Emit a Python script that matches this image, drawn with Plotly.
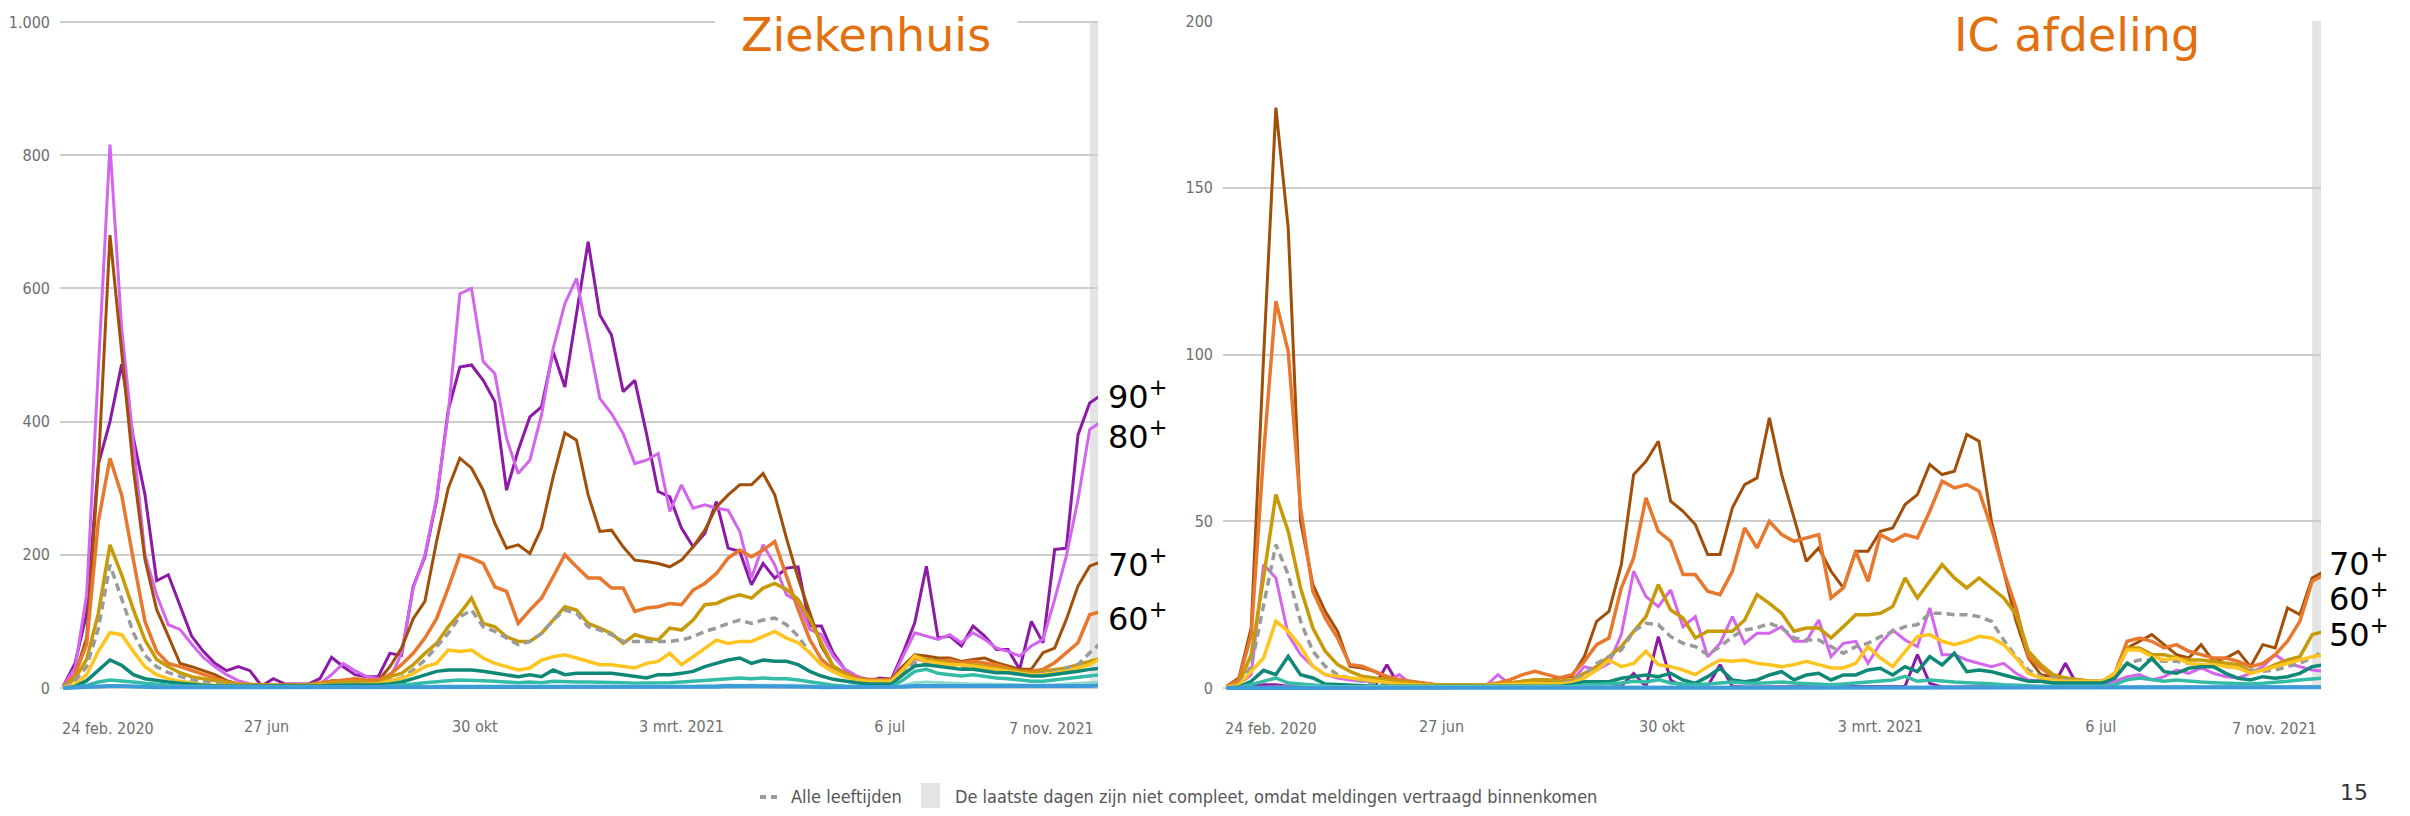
import pandas as pd
import plotly.graph_objects as go
from plotly.subplots import make_subplots

# weekly points, first week ending in late Feb 2020
weeks = pd.date_range("2020-02-26", periods=90, freq="7D")

groups = ["0-9", "10-19", "20-29", "30-39", "40-49", "50-59",
          "60-69", "70-79", "80-89", "90+"]

# ---- Ziekenhuis (hospital admissions per 100.000) ----
zh_90 = [3, 37, 112, 336, 400, 486, 376, 290, 161, 170,
         124, 78, 55, 37, 26, 32, 26, 3, 14, 6,
         6, 6, 14, 46, 32, 20, 17, 17, 52, 49,
         152, 197, 282, 417, 482, 485, 462, 430, 297, 357,
         407, 422, 505, 452, 562, 670, 560, 530, 445, 462,
         382, 295, 287, 240, 212, 232, 280, 210, 205, 155,
         187, 165, 180, 182, 93, 93, 53, 28, 18, 10,
         15, 13, 53, 98, 183, 75, 78, 63, 93, 78,
         58, 58, 28, 100, 68, 208, 210, 380, 428, 440]
zh_80 = [3, 30, 140, 480, 816, 540, 365, 200, 140, 95,
         88, 66, 46, 32, 20, 11, 6, 3, 3, 3,
         3, 3, 6, 20, 37, 26, 17, 14, 14, 52,
         150, 200, 285, 412, 592, 600, 490, 472, 375, 322,
         342, 410, 510, 577, 615, 527, 435, 412, 382, 337,
         342, 352, 265, 305, 270, 275, 270, 267, 235, 165,
         215, 185, 140, 130, 88, 80, 48, 28, 18, 12,
         12, 10, 48, 83, 78, 73, 80, 68, 83, 73,
         60, 55, 48, 63, 73, 133, 198, 283, 388, 400]
zh_70 = [2, 20, 75, 330, 680, 500, 330, 193, 118, 78,
         37, 32, 26, 20, 11, 6, 4, 3, 3, 3,
         3, 4, 5, 11, 11, 14, 11, 11, 32, 60,
         104, 130, 220, 300, 345, 330, 297, 247, 210, 215,
         202, 240, 317, 383, 372, 290, 235, 237, 212, 192,
         190, 187, 182, 192, 212, 237, 272, 290, 305, 305,
         322, 290, 225, 165, 113, 63, 33, 23, 15, 13,
         13, 13, 33, 50, 48, 45, 45, 40, 43, 45,
         38, 33, 28, 28, 53, 60, 103, 153, 183, 190]
zh_60 = [2, 20, 66, 250, 345, 290, 193, 100, 55, 37,
         32, 26, 20, 14, 9, 6, 5, 4, 4, 4,
         4, 5, 8, 10, 12, 14, 12, 12, 20, 35,
         52, 75, 104, 150, 200, 195, 187, 152, 145, 97,
         117, 135, 167, 200, 182, 165, 165, 150, 150, 115,
         120, 122, 127, 125, 147, 157, 172, 195, 207, 197,
         207, 220, 168, 118, 73, 43, 28, 23, 15, 12,
         12, 12, 28, 45, 40, 40, 42, 38, 40, 38,
         35, 30, 25, 25, 28, 38, 53, 68, 110, 115]
zh_50 = [1, 14, 43, 112, 215, 170, 118, 72, 43, 32,
         23, 17, 14, 11, 8, 6, 5, 4, 4, 4,
         4, 5, 6, 8, 9, 9, 8, 8, 17, 22,
         35, 52, 67, 92, 112, 135, 97, 92, 77, 70,
         70, 82, 102, 122, 117, 97, 90, 82, 67, 80,
         75, 72, 90, 87, 102, 125, 127, 135, 140, 135,
         150, 157, 148, 133, 103, 68, 33, 20, 13, 10,
         10, 10, 28, 48, 43, 40, 38, 35, 35, 33,
         30, 28, 25, 22, 25, 28, 30, 35, 40, 45]
zh_40 = [1, 5, 20, 55, 83, 80, 55, 32, 20, 14,
         10, 7, 5, 4, 3, 3, 3, 2, 2, 2,
         2, 3, 4, 5, 5, 5, 5, 6, 11, 14,
         22, 32, 37, 57, 55, 57, 45, 37, 32, 27,
         30, 42, 47, 50, 45, 40, 35, 35, 32, 30,
         37, 40, 52, 35, 47, 60, 72, 67, 70, 70,
         77, 85, 75, 68, 53, 35, 25, 17, 12, 10,
         10, 10, 28, 48, 40, 38, 35, 35, 33, 30,
         28, 25, 22, 20, 20, 22, 25, 30, 35, 45]
zh_30 = [0, 2, 11, 26, 42, 34, 20, 14, 11, 9,
         7, 5, 4, 3, 3, 2, 2, 2, 2, 2,
         2, 2, 3, 4, 4, 4, 4, 5, 6, 9,
         14, 20, 25, 27, 27, 27, 25, 22, 20, 17,
         20, 17, 27, 20, 22, 22, 22, 22, 20, 17,
         15, 20, 20, 22, 25, 32, 37, 42, 45, 37,
         42, 40, 40, 35, 25, 18, 13, 10, 8, 6,
         6, 6, 20, 33, 35, 33, 30, 28, 28, 25,
         23, 23, 20, 18, 18, 20, 23, 25, 28, 30]
zh_20 = [0, 1, 4, 9, 12, 11, 9, 7, 5, 4,
         3, 3, 2, 2, 2, 1, 1, 1, 1, 1,
         1, 1, 1, 2, 2, 2, 2, 2, 3, 4,
         6, 8, 10, 11, 12, 12, 11, 10, 9, 8,
         9, 8, 10, 9, 9, 9, 9, 8, 8, 7,
         7, 8, 8, 9, 10, 12, 13, 14, 15, 14,
         15, 14, 14, 12, 9, 6, 4, 3, 2, 2,
         2, 2, 12, 25, 28, 22, 20, 18, 20, 17,
         15, 14, 12, 10, 10, 12, 14, 15, 18, 20]
zh_10 = [0, 0, 1, 2, 3, 3, 2, 2, 1, 1,
         1, 1, 1, 1, 1, 1, 1, 1, 1, 1,
         1, 1, 1, 1, 1, 1, 1, 1, 1, 1,
         2, 2, 3, 3, 3, 3, 3, 3, 2, 2,
         3, 3, 3, 3, 3, 3, 3, 3, 3, 2,
         2, 3, 3, 3, 3, 4, 4, 5, 5, 5,
         5, 5, 4, 4, 3, 2, 1, 1, 1, 1,
         1, 1, 4, 8, 9, 8, 7, 7, 6, 6,
         6, 5, 5, 4, 4, 5, 6, 7, 8, 9]
zh_0 = [0, 1, 1, 2, 3, 3, 2, 2, 1, 1,
        1, 1, 1, 1, 1, 1, 1, 1, 1, 1,
        1, 1, 1, 1, 1, 1, 1, 1, 1, 1,
        1, 1, 2, 2, 2, 2, 2, 2, 2, 1,
        2, 2, 2, 2, 2, 2, 2, 2, 2, 1,
        1, 2, 2, 2, 2, 2, 2, 3, 3, 3,
        3, 3, 2, 2, 2, 1, 1, 1, 1, 1,
        1, 1, 2, 3, 3, 3, 3, 3, 3, 2,
        2, 2, 2, 2, 2, 2, 3, 3, 3, 4]
zh_all = [1, 11, 32, 89, 185, 135, 83, 49, 32, 23,
          17, 12, 9, 6, 5, 4, 3, 3, 3, 3,
          3, 4, 4, 5, 5, 5, 5, 6, 10, 15,
          27, 42, 62, 82, 107, 117, 92, 85, 75, 65,
          70, 82, 102, 117, 112, 92, 87, 80, 70, 70,
          70, 70, 70, 72, 77, 85, 90, 97, 102, 97,
          102, 105, 95, 78, 53, 35, 25, 17, 12, 10,
          10, 10, 23, 38, 35, 35, 33, 32, 30, 30,
          28, 25, 22, 20, 22, 25, 30, 35, 53, 68]

# ---- IC afdeling (ICU admissions per 100.000) ----
ic_90 = [0, 0.2, 0.5, 1, 1, 0.5, 0.3, 0.3, 0.2, 0.2,
         0.2, 0.2, 0.5, 7, 0.5, 0.2, 0.2, 0.2, 0.2, 0.2,
         0.2, 0.2, 0.2, 0.2, 0.2, 0.2, 0.2, 0.2, 0.2, 0.3,
         0.3, 0.3, 0.5, 4.4, 0.4, 15.4, 2.4, 0.3, 0.3, 0.5,
         7, 0.5, 0.3, 0.3, 0.3, 0.3, 0.3, 0.3, 0.3, 0.3,
         0.3, 0.3, 0.3, 0.3, 0.3, 0.5, 10, 1.4, 0.3, 0.3,
         0.3, 0.3, 0.3, 0.3, 0.3, 0.3, 0.3, 0.5, 7.4, 0.5,
         0.2, 0.2, 0.2, 0.2, 0.2, 0.2, 0.2, 0.2, 0.2, 0.2,
         0.2, 0.2, 0.2, 0.2, 0.2, 0.2, 0.3, 0.3, 0.3, 0.3]
ic_80 = [0.3, 1, 4, 37, 33, 16, 10, 6.5, 4, 3,
         2.4, 2, 2, 2, 4, 1, 0.8, 0.6, 0.5, 0.5,
         0.5, 0.6, 4, 1, 1.5, 2, 1.5, 1.5, 2, 6.4,
         5.4, 7.4, 16, 35, 27.4, 24.4, 29.4, 18.4, 21.4, 9.4,
         13.4, 21.4, 13.4, 16.4, 16.4, 18.4, 14, 14, 20.4, 9.4,
         13.4, 14, 7.4, 13.4, 17.4, 14.4, 12.4, 24, 10, 10,
         8.4, 7.4, 6.4, 7.4, 4.4, 2.4, 2, 1.5, 1.2, 1,
         1, 1, 2, 3.4, 4, 2.4, 3.4, 5.4, 4.4, 6,
         4.4, 3.4, 3, 4.4, 6.4, 10, 7.4, 6.4, 5.4, 5]
ic_70 = [0.5, 3, 18, 99, 174, 138, 50, 31, 23, 17,
         6.5, 6, 5, 3, 2.4, 2, 1.5, 1, 1, 1,
         0.5, 1, 1, 1.5, 2, 2.5, 2, 3, 3.5, 9.4,
         20, 23, 37, 64, 68, 74, 56, 53, 49, 40,
         40, 54, 61, 63, 81, 64, 51, 38, 42, 35,
         30, 41, 41, 47, 48, 55, 58, 67, 64, 65,
         76, 74, 50, 35, 20, 9, 4, 3.4, 3, 2.4,
         2, 2, 3.4, 12, 14, 16, 13, 10, 9, 13,
         8, 9, 11, 6.4, 13, 12, 24, 22, 33, 35]
ic_60 = [0.5, 2.4, 16, 70, 116, 101, 54, 29, 21, 15,
         7, 6.5, 5, 3.5, 2.5, 2, 1.5, 1, 1, 1,
         1, 1, 1.5, 2.5, 4, 5, 4, 3, 4, 8,
         13, 15, 30, 39, 57, 47, 44, 34, 34, 29,
         28, 35, 48, 42, 50, 46, 44, 45, 46, 27,
         30, 41, 32, 46, 44, 46, 45, 53, 62, 60,
         61, 59, 48, 35, 24, 9.4, 6, 3.4, 3, 2.4,
         2, 2, 4.4, 14, 15, 14, 12, 13, 11, 10,
         9, 9, 8, 6.4, 7.4, 10, 14, 20, 32, 34]
ic_50 = [0.3, 1.2, 10, 33, 58, 47, 30, 18, 11, 7,
         5, 3.5, 3, 2.5, 2, 1.5, 1, 1, 1, 0.8,
         0.8, 1, 1, 1.5, 2, 2.5, 2.5, 2, 2.4, 4.4,
         6.4, 9.4, 12.4, 17, 21.4, 31, 23.4, 21, 15, 17,
         17, 17, 20.4, 28, 25.4, 22.4, 17, 18, 18, 15,
         18.4, 22, 22, 22.4, 24.4, 33, 27, 32, 37, 33,
         30, 33, 30, 27, 22, 11, 7, 4, 3, 2.4,
         2, 2, 4, 12, 12, 10, 10, 9, 8.4, 8.4,
         8, 7.4, 7, 5, 5.4, 7, 8.4, 9.4, 16, 17]
ic_40 = [0.2, 0.8, 5, 9, 20, 17, 12.4, 6.5, 4, 3.5,
         3, 2.5, 2, 1.5, 1.2, 1, 0.8, 0.6, 0.6, 0.6,
         0.6, 0.8, 1, 1, 1.2, 1.4, 1.2, 1.2, 1.6, 3,
         5.4, 8.4, 6.4, 7.4, 11, 7, 6.4, 5.4, 4, 6.4,
         8.4, 8, 8.4, 7.4, 7, 6.4, 7, 8, 7, 6,
         6, 7.4, 12.4, 9, 6.4, 11, 15.4, 16, 14, 13,
         14, 15.5, 15, 13, 9, 4.4, 3, 2.4, 2, 2,
         2, 2, 4.4, 11.4, 11.4, 9.4, 8.4, 9, 7.4, 7,
         7, 6.4, 6, 4.4, 5.4, 6.4, 7.4, 8.4, 9.4, 10]
ic_30 = [0, 0.3, 2, 5.3, 4, 9.5, 4, 3, 1.2, 1,
         0.8, 0.6, 0.5, 0.5, 0.5, 0.4, 0.4, 0.3, 0.3, 0.3,
         0.3, 0.3, 0.4, 0.4, 0.5, 0.5, 0.5, 0.5, 1, 1.9,
         1.9, 1.9, 2.9, 3.4, 3.9, 3.4, 4.4, 2.4, 1.4, 3.4,
         5.9, 2.4, 1.9, 2.4, 3.9, 4.9, 2.4, 3.9, 4.4, 2.4,
         3.9, 3.9, 5.4, 5.9, 3.9, 6.4, 4.9, 9.4, 6.9, 10.4,
         4.9, 5.4, 4.9, 3.9, 2.9, 2, 2, 1.5, 1.5, 1.5,
         1.5, 1.5, 2.9, 7.4, 5.4, 8.9, 4.9, 4.4, 5.9, 6.4,
         6.4, 4.4, 2.9, 2.4, 3.4, 2.9, 3.4, 4.4, 6.4, 7]
ic_20 = [0, 0.2, 1, 2, 3, 1.5, 1.2, 0.8, 0.5, 0.3,
         0.3, 0.3, 0.3, 0.3, 0.3, 0.3, 0.3, 0.3, 0.3, 0.3,
         0.3, 0.3, 0.3, 0.3, 0.3, 0.3, 0.3, 0.3, 0.5, 0.8,
         1, 1.2, 1.5, 2, 1.8, 2.5, 1.5, 1.2, 1, 1.2,
         1.5, 1.8, 1.5, 1.4, 1.6, 1.8, 1.5, 1.4, 1.2, 1,
         1.2, 1.5, 1.6, 2, 2.4, 3.5, 2, 2.4, 2, 1.8,
         1.6, 1.5, 1.3, 1, 0.8, 0.6, 0.5, 0.5, 0.5, 0.5,
         0.5, 0.5, 1, 2.5, 3, 2.4, 2, 2.4, 2, 1.8,
         1.6, 1.5, 1.4, 1.2, 1.4, 1.6, 2, 2.4, 2.8, 3]
ic_10 = [0, 0, 0.1, 0.2, 0.3, 0.3, 0.2, 0.1, 0.1, 0.1,
         0.1, 0.1, 0.1, 0.1, 0.1, 0.1, 0.1, 0.1, 0.1, 0.1,
         0.1, 0.1, 0.1, 0.1, 0.1, 0.1, 0.1, 0.1, 0.1, 0.1,
         0.2, 0.2, 0.2, 0.3, 0.3, 0.3, 0.3, 0.2, 0.2, 0.2,
         0.2, 0.2, 0.2, 0.2, 0.2, 0.2, 0.2, 0.2, 0.2, 0.2,
         0.2, 0.2, 0.2, 0.2, 0.3, 0.3, 0.3, 0.3, 0.3, 0.3,
         0.3, 0.3, 0.2, 0.2, 0.2, 0.1, 0.1, 0.1, 0.1, 0.1,
         0.1, 0.1, 0.2, 0.4, 0.4, 0.4, 0.3, 0.3, 0.3, 0.3,
         0.3, 0.3, 0.2, 0.2, 0.2, 0.3, 0.3, 0.3, 0.4, 0.4]
ic_0 = [0, 0, 0, 0.1, 0.1, 0.1, 0.1, 0, 0, 0,
        0, 0, 0, 0, 0, 0, 0, 0, 0, 0,
        0, 0, 0, 0, 0, 0, 0, 0, 0, 0,
        0.1, 0.1, 0.1, 0.1, 0.1, 0.1, 0.1, 0.1, 0.1, 0.1,
        0.1, 0.1, 0.1, 0.1, 0.1, 0.1, 0.1, 0.1, 0.1, 0.1,
        0.1, 0.1, 0.1, 0.1, 0.1, 0.1, 0.1, 0.1, 0.1, 0.1,
        0.1, 0.1, 0.1, 0.1, 0, 0, 0, 0, 0, 0,
        0, 0, 0.1, 0.1, 0.1, 0.1, 0.1, 0.1, 0.1, 0.1,
        0.1, 0.1, 0.1, 0.1, 0.1, 0.1, 0.1, 0.1, 0.2, 0.2]
ic_all = [0.2, 1, 6.5, 25, 43, 34, 20, 11, 6.5, 4,
          3, 2, 1.5, 1, 1, 0.8, 0.7, 0.6, 0.6, 0.6,
          0.6, 0.7, 0.8, 1, 1.2, 1.4, 1.4, 1.5, 2, 4,
          7.4, 9.4, 11.4, 17, 19.4, 19, 15.4, 13.4, 12.4, 10,
          12.4, 15.4, 17.4, 18, 19.4, 18, 15, 14.4, 14.4, 12.4,
          10.4, 12.4, 13.4, 15.4, 17, 18.4, 19, 22.4, 22.4, 22,
          22, 21.4, 20, 14.4, 9.4, 5.4, 3.4, 3, 2.4, 2,
          2, 2, 4, 7.4, 8.4, 8.4, 8, 8, 7.4, 7,
          7, 6.4, 6, 5.4, 5, 5.4, 6.4, 7.4, 9, 11.4]

zh_series = [zh_0, zh_10, zh_20, zh_30, zh_40, zh_50, zh_60, zh_70, zh_80, zh_90]
ic_series = [ic_0, ic_10, ic_20, ic_30, ic_40, ic_50, ic_60, ic_70, ic_80, ic_90]

colors = ["#3D9BDA", "#8ED8CF", "#33BBA5", "#0F8877", "#FFC41F",
          "#C99A08", "#E8782E", "#A24F08", "#D466EE", "#8C1AA6"]
widths = [4, 3, 3.5, 3.5, 3.5, 3.5, 3.5, 3, 3, 3]

# x-axis tick dates (first and last placed as annotations so they can be aligned)
tick_mid = ["2020-06-27", "2020-10-30", "2021-03-03", "2021-07-06"]
tick_mid_text = ["27 jun", "30 okt", "3 mrt. 2021", "6 jul"]
tick_first = ("2020-02-24", "24 feb. 2020")
tick_last = ("2021-11-07", "7 nov. 2021")
incomplete_from = "2021-11-03"

zh_ticks = [0, 200, 400, 600, 800, 1000]
zh_ticktext = ["0", "200", "400", "600", "800", "1.000"]
ic_ticks = [0, 50, 100, 150, 200]
ic_ticktext = ["0", "50", "100", "150", "200"]

# the page body adds 8px around the figure, so the figure is 16px smaller
# than the 2410x816 window and every position is given in window pixels
PAGE_W, PAGE_H, BODY = 2410, 816, 8
W, H = PAGE_W - 2 * BODY, PAGE_H - 2 * BODY
narrow = "DejaVu Sans Condensed, Liberation Sans Narrow, sans-serif"
tick_font = dict(family=narrow, size=16, color="#6E6E6E")
orange = "#E3700F"


def px_x(p):
    return (p - BODY) / W


def px_y(p):
    return (H - (p - BODY)) / H


fig = make_subplots(rows=1, cols=2)

# oldest groups first so the young (near-zero) lines end up on top, as in the source
for col, series, allv in [(1, zh_series, zh_all), (2, ic_series, ic_all)]:
    for k in range(len(series) - 1, -1, -1):
        fig.add_trace(go.Scatter(x=weeks, y=series[k], mode="lines", name=groups[k],
                                 line=dict(color=colors[k], width=widths[k]),
                                 showlegend=False), row=1, col=col)
        if k == 5:
            fig.add_trace(go.Scatter(x=weeks, y=allv, mode="lines", name="Alle leeftijden",
                                     line=dict(color="#9A9A9A", width=3.5, dash="8px,5px"),
                                     showlegend=False), row=1, col=col)

ydom = [px_y(693), px_y(20)]
xrange_ = [tick_first[0], "2021-11-08"]
common_x = dict(range=xrange_, type="date", showgrid=False, zeroline=False,
                showline=False, ticks="", tickvals=tick_mid, ticktext=tick_mid_text,
                tickfont=tick_font, ticklabelstandoff=22, automargin=False)
common_y = dict(showgrid=True, gridcolor="#CDCDCD", gridwidth=2, zeroline=False,
                showline=False, ticks="", tickfont=tick_font, ticklabelstandoff=9,
                domain=ydom, automargin=False)

fig.update_layout(
    xaxis=dict(domain=[px_x(60), px_x(1098)], **common_x),
    xaxis2=dict(domain=[px_x(1223), px_x(2321)], **common_x),
    yaxis=dict(range=[-7.5, 1003], tickvals=zh_ticks, ticktext=zh_ticktext, **common_y),
    yaxis2=dict(range=[-1.5, 200.3], tickvals=ic_ticks, ticktext=ic_ticktext, **common_y),
    width=W, height=H,
    margin=dict(l=0, r=0, t=0, b=0, pad=0, autoexpand=False),
    paper_bgcolor="white", plot_bgcolor="white",
    showlegend=False,
)

# grey band: last days incomplete
for xr, yr, top in [("x", "y", 1000), ("x2", "y2", 200)]:
    fig.add_shape(type="rect", xref=xr, yref=yr, x0=incomplete_from, x1=xrange_[1],
                  y0=0, y1=top, fillcolor="#E4E4E4", line_width=0, layer="below")

# first / last date labels
for xr in ["x", "x2"]:
    fig.add_annotation(x=tick_first[0], xref=xr, y=px_y(728), yref="paper",
                       text=tick_first[1], showarrow=False, xanchor="left",
                       yanchor="middle", font=tick_font)
    fig.add_annotation(x=tick_last[0], xref=xr, y=px_y(728), yref="paper",
                       text=tick_last[1], showarrow=False, xanchor="right",
                       yanchor="middle", font=tick_font)

# panel titles, sitting on the top gridline (white box breaks the line)
title_font = dict(family="DejaVu Sans", size=46, color=orange)
for cx, x0, x1, text in [(866, 715, 1018, "Ziekenhuis"), (2077, 1925, 2230, "IC afdeling")]:
    fig.add_shape(type="rect", xref="paper", yref="paper",
                  x0=px_x(x0), x1=px_x(x1), y0=px_y(30), y1=px_y(14),
                  fillcolor="white", line_width=0, layer="above")
    fig.add_annotation(x=px_x(cx), y=px_y(35), xref="paper", yref="paper",
                       text=text, showarrow=False, font=title_font,
                       borderpad=0, xanchor="center", yanchor="middle")

# end labels for the oldest groups
label_font = dict(family="DejaVu Sans", size=32, color="black")
for text, yv in [("90", 440), ("80", 380), ("70", 188), ("60", 107)]:
    fig.add_annotation(x=1, xref="x domain", y=yv, yref="y", xshift=8,
                       text=f"{text}<sup>+</sup>", showarrow=False,
                       xanchor="left", yanchor="middle", font=label_font)
for text, yv in [("70", 37.8), ("60", 27.3), ("50", 16.5)]:
    fig.add_annotation(x=1, xref="x2 domain", y=yv, yref="y2", xshift=6,
                       text=f"{text}<sup>+</sup>", showarrow=False,
                       xanchor="left", yanchor="middle", font=label_font)

# legend at the bottom
leg_font = dict(family=narrow, size=18, color="#555555")
fig.add_shape(type="line", xref="paper", yref="paper",
              x0=px_x(760), x1=px_x(777), y0=px_y(797), y1=px_y(797),
              line=dict(color="#9A9A9A", width=4, dash="6px,5px"))
fig.add_annotation(x=px_x(789), y=px_y(796), xref="paper", yref="paper",
                   text="Alle leeftijden", showarrow=False, xanchor="left",
                   yanchor="middle", font=leg_font)
fig.add_shape(type="rect", xref="paper", yref="paper",
              x0=px_x(921), x1=px_x(940), y0=px_y(808), y1=px_y(783),
              fillcolor="#E4E4E4", line_width=0)
fig.add_annotation(x=px_x(953), y=px_y(796), xref="paper", yref="paper",
                   text="De laatste dagen zijn niet compleet, omdat meldingen vertraagd binnenkomen",
                   showarrow=False, xanchor="left", yanchor="middle", font=leg_font)

# slide number in the bottom-right corner
fig.add_annotation(x=px_x(2354), y=px_y(807), xref="paper", yref="paper",
                   text="15", showarrow=False, xanchor="center", yanchor="bottom",
                   font=dict(family="DejaVu Sans", size=22, color="#333333"))

fig.write_html("out.html")
